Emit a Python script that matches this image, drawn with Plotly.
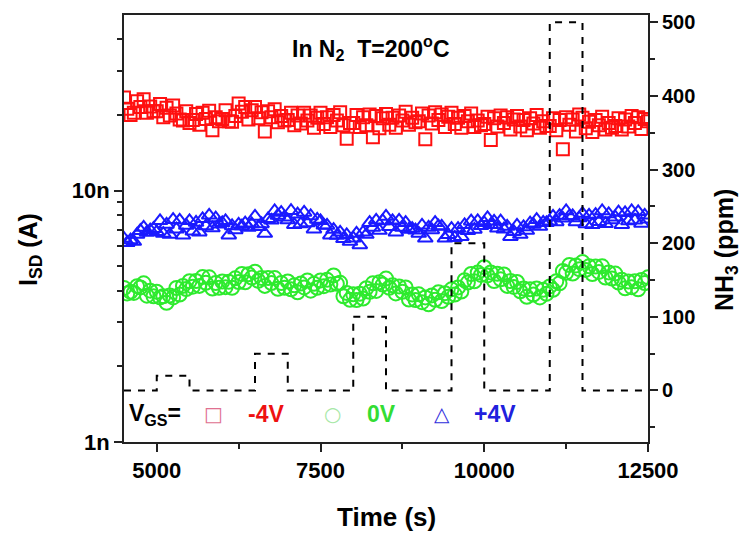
import plotly.graph_objects as go

# ---------------- data ----------------
# sampling: first time 4500 s, one point every 50 s (161 points per series)
t_start = 4500
t_step = 50

isd_m4v_nA = [
    23.5, 21.2, 20.0, 20.4, 22.7, 21.5, 23.1, 20.4, 21.6, 20.7,
    20.7, 22.1, 19.6, 21.4, 19.9, 21.8, 20.3, 19.2, 19.0, 20.7,
    18.6, 19.1, 20.2, 18.3, 20.4, 19.3, 20.8, 17.4, 19.6, 18.9,
    19.3, 20.9, 18.9, 18.8, 19.8, 22.2, 20.6, 21.5, 19.2, 20.9,
    21.5, 19.4, 20.5, 17.2, 20.7, 19.6, 21.1, 18.7, 19.8, 19.0,
    19.1, 20.4, 18.2, 19.9, 18.5, 20.4, 19.0, 19.9, 17.8, 19.5,
    20.4, 18.4, 19.6, 17.9, 20.0, 19.0, 20.5, 18.2, 16.1, 18.6,
    18.6, 20.0, 17.9, 19.6, 18.2, 20.1, 16.3, 19.8, 17.7, 19.4,
    20.2, 18.3, 19.5, 17.8, 19.9, 19.0, 20.6, 18.3, 19.5, 18.7,
    18.9, 20.3, 16.0, 19.9, 18.5, 20.5, 19.1, 20.1, 17.9, 19.7,
    20.4, 18.4, 19.5, 17.8, 19.8, 18.9, 20.3, 17.9, 19.0, 18.2,
    18.4, 19.7, 15.9, 19.4, 18.0, 19.9, 18.6, 19.6, 17.5, 19.2,
    19.8, 18.0, 19.1, 17.4, 19.4, 18.5, 20.0, 17.8, 18.9, 18.1,
    18.1, 19.4, 17.4, 19.1, 14.6, 19.6, 18.3, 19.2, 17.2, 20.1,
    19.5, 17.7, 18.8, 17.1, 19.1, 18.2, 19.7, 17.5, 18.6, 17.8,
    18.1, 19.4, 17.5, 19.2, 18.0, 19.8, 18.6, 19.6, 17.6, 19.3,
    18.9,
]

isd_0v_nA = [
    4.10, 3.90, 3.96, 3.92, 4.17, 4.12, 4.28, 3.82, 4.00, 3.80,
    3.96, 3.76, 3.80, 3.58, 3.83, 3.76, 4.10, 3.86, 4.18, 4.06,
    4.36, 4.15, 4.37, 4.18, 4.53, 4.30, 4.52, 4.08, 4.29, 4.11,
    4.35, 4.13, 4.34, 4.11, 4.48, 4.33, 4.66, 4.32, 4.65, 4.51,
    4.76, 4.38, 4.49, 4.18, 4.49, 4.29, 4.49, 4.07, 4.29, 4.11,
    4.35, 4.05, 4.20, 3.94, 4.27, 4.12, 4.39, 4.00, 4.26, 4.11,
    4.39, 4.17, 4.42, 4.23, 4.60, 4.26, 4.30, 3.80, 3.92, 3.68,
    3.87, 3.67, 3.89, 3.72, 4.09, 3.96, 4.28, 3.99, 4.32, 4.23,
    4.47, 4.11, 4.20, 3.90, 4.16, 3.96, 4.12, 3.69, 3.86, 3.67,
    3.87, 3.60, 3.76, 3.53, 3.83, 3.68, 3.94, 3.64, 3.91, 3.78,
    4.05, 3.86, 4.12, 3.97, 4.40, 4.31, 4.66, 4.36, 4.72, 4.62,
    4.96, 4.60, 4.73, 4.37, 4.67, 4.44, 4.64, 4.18, 4.37, 4.14,
    4.33, 3.98, 4.08, 3.78, 4.05, 3.86, 4.08, 3.76, 4.03, 3.89,
    4.16, 4.03, 4.36, 4.28, 4.79, 4.71, 5.06, 4.68, 5.04, 4.87,
    5.20, 4.84, 5.00, 4.66, 4.99, 4.75, 5.00, 4.51, 4.73, 4.47,
    4.68, 4.31, 4.42, 4.09, 4.35, 4.13, 4.36, 4.05, 4.41, 4.29,
    4.52,
]

isd_p4v_nA = [
    6.45, 6.21, 6.36, 6.27, 6.70, 6.93, 7.14, 6.82, 6.97, 7.06,
    6.86, 7.59, 6.75, 7.34, 6.69, 7.67, 7.03, 7.62, 6.65, 7.27,
    7.59, 6.89, 7.47, 6.84, 7.73, 7.23, 7.98, 7.10, 7.78, 7.35,
    7.45, 7.59, 6.65, 7.24, 6.98, 7.35, 7.23, 7.42, 7.13, 7.37,
    7.90, 7.18, 7.37, 6.75, 7.73, 7.62, 8.30, 7.97, 8.18, 7.84,
    7.64, 8.32, 7.32, 8.06, 7.37, 8.19, 7.43, 7.93, 7.03, 7.68,
    7.59, 7.28, 7.27, 6.65, 7.00, 6.63, 6.83, 6.43, 6.67, 6.27,
    6.47, 6.76, 6.08, 6.83, 6.69, 7.46, 7.13, 7.62, 6.94, 7.58,
    7.90, 7.18, 7.58, 6.84, 7.62, 7.13, 7.46, 7.01, 7.07, 6.96,
    6.76, 7.28, 6.46, 7.14, 6.98, 7.46, 7.23, 7.21, 6.46, 6.67,
    7.07, 6.50, 7.07, 6.56, 7.31, 6.93, 7.56, 7.01, 7.58, 7.25,
    7.45, 7.80, 7.32, 7.55, 7.08, 7.56, 7.03, 7.21, 6.56, 6.87,
    7.28, 6.69, 7.17, 6.94, 7.42, 7.33, 7.67, 7.20, 7.47, 7.45,
    7.55, 7.90, 7.51, 7.96, 7.76, 8.30, 7.92, 7.93, 7.51, 7.78,
    8.11, 7.37, 7.98, 7.32, 8.03, 7.52, 8.30, 7.39, 8.08, 7.64,
    7.84, 8.22, 7.32, 8.16, 7.57, 8.30, 7.62, 8.24, 7.41, 7.98,
    7.70,
]

nh3_time_s = [4500, 5000, 5500, 6500, 7000, 8000, 8500, 9500, 10000, 11000, 11500, 12500]
nh3_ppm = [0, 20, 0, 50, 0, 100, 0, 200, 0, 500, 0, 0]

x_tick_vals = [5000, 7500, 10000, 12500]
x_minor_vals = [6250, 8750, 11250]
y_tick_vals = [1e-9, 1e-8]
y_tick_text = ["1n", "10n"]
y_minor_vals = [2e-9, 3e-9, 4e-9, 5e-9, 6e-9, 7e-9, 8e-9, 9e-9, 2e-8, 3e-8, 4e-8]
y2_tick_vals = [0, 100, 200, 300, 400, 500]

to_A = lambda arr: [v * 1e-9 for v in arr]

RED = "#ff1010"
GREEN = "#2eea2e"
BLUE = "#1a1aff"
FONT = "Liberation Sans"

fig = go.Figure()

fig.add_trace(go.Scatter(
    x0=t_start, dx=t_step, y=to_A(isd_m4v_nA), mode="markers",
    marker=dict(symbol="square-open", size=12, color=RED, line=dict(width=2, color=RED)),
    name="-4V", showlegend=False))
fig.add_trace(go.Scatter(
    x0=t_start, dx=t_step, y=to_A(isd_0v_nA), mode="markers",
    marker=dict(symbol="circle-open", size=14, color=GREEN, line=dict(width=2, color=GREEN)),
    name="0V", showlegend=False))
fig.add_trace(go.Scatter(
    x0=t_start, dx=t_step, y=to_A(isd_p4v_nA), mode="markers",
    marker=dict(symbol="triangle-up-open", size=13, color=BLUE, line=dict(width=2, color=BLUE)),
    name="+4V", showlegend=False))
fig.add_trace(go.Scatter(
    x=nh3_time_s, y=nh3_ppm, mode="lines", yaxis="y2",
    line=dict(color="black", width=2, dash="7px,7px", shape="hv"),
    name="NH3", showlegend=False))

axis_font = dict(family=FONT, size=22, color="black", weight="bold")

fig.update_layout(
    width=742, height=535,
    margin=dict(l=124, r=94, t=15, b=93),
    paper_bgcolor="white", plot_bgcolor="white",
    font=dict(family=FONT, color="black"),
    xaxis=dict(
        range=[4500, 12500], tickvals=x_tick_vals, ticktext=[str(v) for v in x_tick_vals],
        showgrid=False, zeroline=False, showline=True, linecolor="#222", linewidth=2,
        mirror=True, ticks="outside", ticklen=8, tickwidth=2, tickcolor="#222",
        tickfont=axis_font,
        minor=dict(tickvals=x_minor_vals, ticks="outside", ticklen=5, tickwidth=1.5, tickcolor="#222"),
    ),
    yaxis=dict(
        type="log", range=[-9, -7.30103], tickvals=y_tick_vals, ticktext=y_tick_text,
        showgrid=False, zeroline=False, showline=True, linecolor="#222", linewidth=2,
        ticks="outside", ticklen=8, tickwidth=2, tickcolor="#222", tickfont=axis_font,
        minor=dict(tickvals=y_minor_vals, ticks="outside", ticklen=5, tickwidth=1.5, tickcolor="#222"),
    ),
    yaxis2=dict(
        overlaying="y", side="right", range=[-70, 510], tickvals=y2_tick_vals,
        showgrid=False, zeroline=False, showline=True, linecolor="#222", linewidth=2,
        ticks="outside", ticklen=8, tickwidth=2, tickcolor="#222",
        tickfont=dict(family=FONT, size=20, color="black", weight="bold"),
        minor=dict(dtick=50, ticks="outside", ticklen=5, tickwidth=1.5, tickcolor="#222"),
    ),
)

bold = lambda s: "<b>" + s + "</b>"
px_x = lambda px: (px - 124) / 524
px_y = lambda py: (442 - py) / 427
ann = []
ann.append(dict(text=bold("I<sub>SD</sub> (A)"), xref="paper", yref="paper",
                x=px_x(30), y=px_y(250), textangle=-90, showarrow=False,
                font=dict(family=FONT, size=25, color="black"), xanchor="center", yanchor="middle"))
ann.append(dict(text=bold("NH<sub>3</sub> (ppm)"), xref="paper", yref="paper",
                x=px_x(726), y=px_y(250), textangle=-90, showarrow=False,
                font=dict(family=FONT, size=25, color="black"), xanchor="center", yanchor="middle"))
ann.append(dict(text=bold("Time (s)"), xref="paper", yref="paper",
                x=0.5, y=px_y(517), showarrow=False,
                font=dict(family=FONT, size=26, color="black"), xanchor="center", yanchor="middle"))
ann.append(dict(text=bold("In N<sub>2</sub>  T=200<sup>o</sup>C"), xref="paper", yref="paper",
                x=px_x(371), y=px_y(48), showarrow=False,
                font=dict(family=FONT, size=23, color="black"), xanchor="center", yanchor="middle"))
leg_y = px_y(414)
ann.append(dict(text=bold("V<sub>GS</sub>="), xref="paper", yref="paper",
                x=px_x(127), y=leg_y, showarrow=False,
                font=dict(family=FONT, size=23, color="black"), xanchor="left", yanchor="middle"))
for sym, lab, scol, tcol, xs, xl in [("□", "-4V", "#e07090", "#ee1111", 213, 266),
                                     ("○", "0V", "#a8e8a8", "#33dd33", 332, 381),
                                     ("△", "+4V", "#3030dd", "#2020dd", 442, 495)]:
    ann.append(dict(text=sym, xref="paper", yref="paper", x=px_x(xs), y=leg_y,
                    showarrow=False, font=dict(family="DejaVu Sans", size=20, color=scol),
                    xanchor="center", yanchor="middle"))
    ann.append(dict(text=bold(lab), xref="paper", yref="paper", x=px_x(xl), y=leg_y,
                    showarrow=False, font=dict(family=FONT, size=23, color=tcol),
                    xanchor="center", yanchor="middle"))
fig.update_layout(annotations=ann)

fig.write_html("out.html", config={"displayModeBar": False},
               post_script="document.body.style.margin='0px';")
